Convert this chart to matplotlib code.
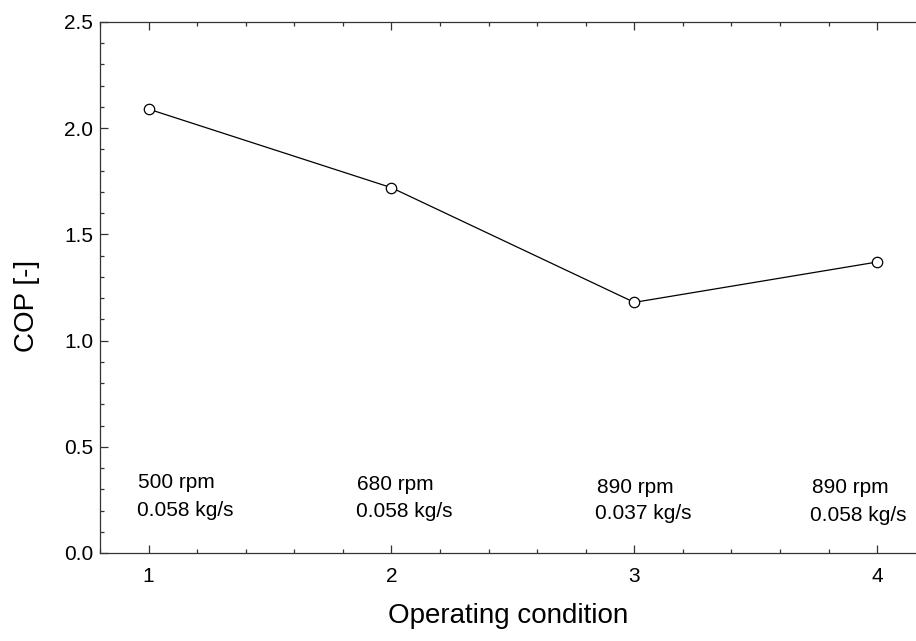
import matplotlib
matplotlib.use("Agg")
import matplotlib.pyplot as plt
from matplotlib.ticker import MultipleLocator, FormatStrFormatter

plt.rcParams['font.family'] = ['Liberation Sans', 'DejaVu Sans']

# data
conditions = [1, 2, 3, 4]
cop = [2.09, 1.72, 1.18, 1.37]
speed_labels = ['500 rpm', '680 rpm', '890 rpm', '890 rpm']
flow_labels = ['0.058 kg/s', '0.058 kg/s', '0.037 kg/s', '0.058 kg/s']

# where the two-line labels sit (data coords, left/baseline)
speed_pos = [(0.955, 0.306), (1.857, 0.297), (2.846, 0.282), (3.732, 0.282)]
flow_pos = [(0.951, 0.174), (1.853, 0.169), (2.838, 0.160), (3.724, 0.151)]

fig = plt.figure(figsize=(9.16, 6.41), dpi=100)
ax = fig.add_axes([100 / 916, 88 / 641, 816 / 916, 531 / 641])

ax.plot(conditions, cop, color='black', lw=0.9, marker='o', ms=7.5,
        mfc='white', mec='black', mew=0.9, zorder=3)

for lab, (x, y) in zip(speed_labels, speed_pos):
    ax.text(x, y, lab, ha='left', va='baseline', fontsize=15)
for lab, (x, y) in zip(flow_labels, flow_pos):
    ax.text(x, y, lab, ha='left', va='baseline', fontsize=15)

ax.set_xlim(0.8, 4.16)
ax.set_ylim(0, 2.5)

ax.xaxis.set_major_locator(MultipleLocator(1))
ax.xaxis.set_minor_locator(MultipleLocator(0.2))
ax.yaxis.set_major_locator(MultipleLocator(0.5))
ax.yaxis.set_minor_locator(MultipleLocator(0.1))
ax.yaxis.set_major_formatter(FormatStrFormatter('%.1f'))

ax.spines['right'].set_visible(False)
for s in ['left', 'top', 'bottom']:
    ax.spines[s].set_color('#333333')
    ax.spines[s].set_linewidth(0.9)

ax.tick_params(which='both', direction='in', top=True, right=False,
               color='#333333', width=0.9, labelsize=15)
ax.tick_params(which='major', length=5.5)
ax.tick_params(which='minor', length=3)
ax.tick_params(axis='x', which='major', pad=10)
ax.tick_params(axis='y', which='major', pad=5)

ax.set_xlabel('Operating condition', fontsize=20, labelpad=12)
ax.set_ylabel('COP [-]', fontsize=20)
ax.yaxis.set_label_coords(-0.073, 0.465)

fig.savefig('out.png', dpi=100)
